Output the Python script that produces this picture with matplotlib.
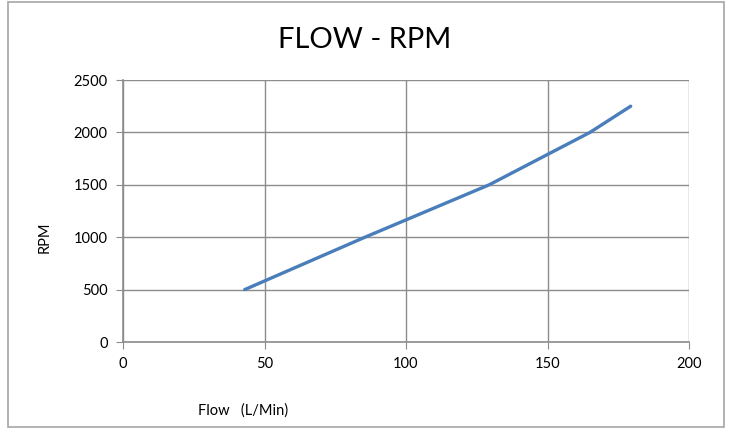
import matplotlib.pyplot as plt
from matplotlib.patches import Rectangle

flow = [43, 85.5, 129.4, 165, 179.4]
rpm = [500, 1000, 1500, 2000, 2250]
x_ticks = [0, 50, 100, 150, 200]
y_ticks = [0, 500, 1000, 1500, 2000, 2500]

plt.rcParams['font.family'] = ['Lato', 'DejaVu Sans']

fig = plt.figure(figsize=(7.31, 4.30), dpi=100)
ax = fig.add_axes([123 / 731, 1 - 342 / 430, (689 - 123) / 731, (342 - 80) / 430])

ax.plot(flow, rpm, color='#4A7EBB', linewidth=2.4, solid_capstyle='round')
ax.set_xlim(0, 200)
ax.set_ylim(0, 2500)
ax.set_xticks(x_ticks)
ax.set_yticks(y_ticks)
ax.grid(True, color='#8c8c8c', linewidth=1)
ax.set_axisbelow(True)
for side in ['top', 'right']:
    ax.spines[side].set_visible(False)
for side in ['left', 'bottom']:
    ax.spines[side].set_color('#8c8c8c')
    ax.spines[side].set_linewidth(1.2)
ax.tick_params(length=5, color='#8c8c8c', labelsize=10.5, pad=6)

fig.text(365 / 731, 1 - 40 / 430, 'FLOW - RPM', ha='center', va='center', fontsize=21)
fig.text(243 / 731, 1 - 411 / 430, 'Flow   (L/Min)', ha='center', va='center', fontsize=10.5)
fig.text(45 / 731, 1 - 237 / 430, 'RPM', ha='center', va='center', rotation=90, fontsize=10.5)

fig.patches.append(Rectangle((8 / 731, 3 / 430), 716 / 731, 425 / 430, transform=fig.transFigure,
                             fill=False, edgecolor='#a6a6a6', linewidth=1.2))

fig.savefig('out.png', dpi=100)
